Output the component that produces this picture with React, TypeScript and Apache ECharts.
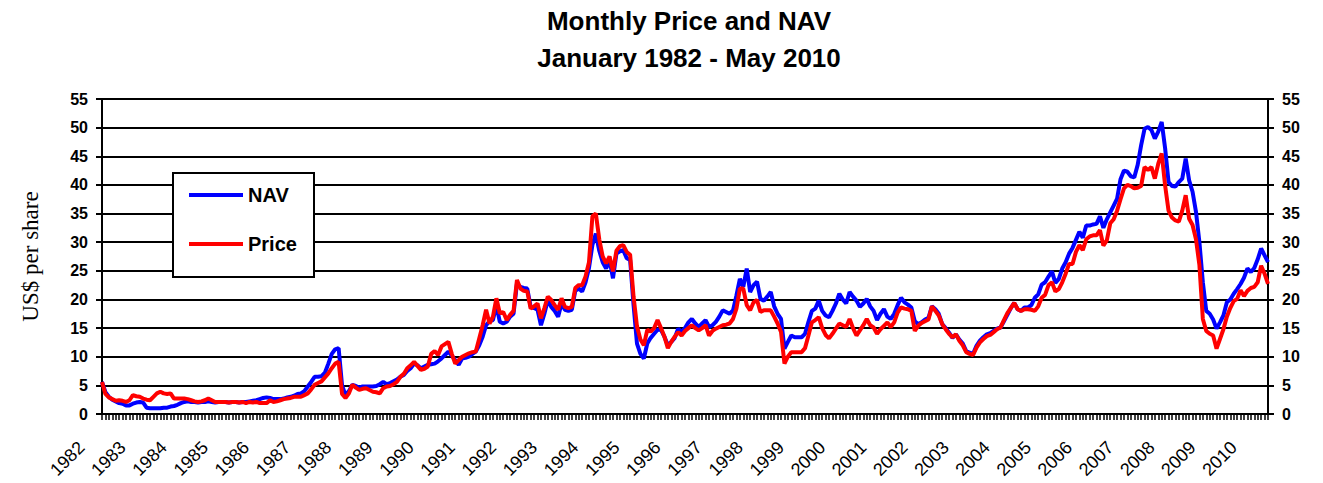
import React, { useEffect, useRef } from "react";
import * as echarts from "echarts";

const FIRST_YEAR = 1982;
const LAST_YEAR = 2010;
const LAST_MONTH = 5;

const TITLE_LINE_1 = "Monthly Price and NAV";
const TITLE_LINE_2 = "January 1982 - May 2010";
const Y_NAME = "US$ per share";
const SERIES_NAMES = ["NAV", "Price"];

// Monthly NAV, Jan 1982 .. May 2010 (one row per year)
const NAV: number[] = [
  5.6, 3.8, 3.0, 2.5, 2.2, 1.9, 1.8, 1.5, 1.5, 1.8, 2.0, 2.1, // 1982
  2.0, 1.1, 1.0, 1.0, 1.0, 1.0, 1.1, 1.1, 1.3, 1.4, 1.6, 1.9, // 1983
  2.1, 2.2, 2.1, 2.1, 2.0, 2.1, 2.1, 2.2, 2.1, 2.0, 2.1, 2.1, // 1984
  2.1, 2.0, 2.1, 2.1, 2.0, 2.1, 2.1, 2.2, 2.3, 2.4, 2.6, 2.8, // 1985
  2.9, 2.8, 2.6, 2.6, 2.6, 2.7, 2.9, 3.0, 3.2, 3.5, 3.6, 4.0, // 1986
  4.8, 5.6, 6.5, 6.5, 6.6, 7.2, 8.8, 10.5, 11.3, 11.5, 5.0, 3.3, // 1987
  4.0, 5.1, 4.9, 4.6, 4.8, 4.8, 4.8, 4.8, 4.9, 5.2, 5.6, 5.2, // 1988
  5.4, 5.7, 6.0, 6.5, 6.8, 7.5, 8.0, 8.8, 8.5, 8.0, 8.3, 8.6, // 1989
  8.7, 8.8, 9.2, 9.7, 10.3, 10.9, 10.2, 9.4, 8.6, 9.7, 9.8, 10.0, // 1990
  10.5, 10.9, 12.0, 13.5, 15.5, 16.2, 16.4, 19.0, 16.1, 15.8, 16.1, 17.0, // 1991
  17.5, 22.8, 22.2, 22.0, 21.9, 18.7, 18.5, 18.2, 15.5, 17.5, 19.9, 18.7, // 1992
  18.0, 17.0, 19.3, 18.2, 18.0, 18.2, 21.5, 21.9, 21.4, 23.0, 25.5, 29.5, // 1993
  31.5, 28.5, 26.5, 25.4, 26.9, 23.7, 28.0, 28.4, 28.6, 27.2, 26.9, 19.0, // 1994
  12.3, 10.5, 9.7, 12.3, 13.3, 14.0, 14.7, 14.7, 13.5, 12.0, 12.6, 13.3, // 1995
  14.9, 14.3, 15.0, 16.0, 16.6, 15.8, 15.2, 15.8, 16.4, 15.2, 15.5, 16.1, // 1996
  17.0, 18.1, 17.8, 17.5, 18.1, 20.7, 23.6, 22.2, 25.4, 21.3, 22.5, 23.1, // 1997
  20.1, 19.8, 20.5, 21.3, 18.8, 17.5, 16.6, 11.4, 12.6, 13.7, 13.4, 13.4, // 1998
  13.4, 14.0, 16.1, 18.0, 18.4, 19.8, 18.0, 17.2, 16.9, 18.0, 19.3, 21.0, // 1999
  20.0, 19.3, 21.3, 20.5, 19.8, 18.7, 19.3, 20.1, 18.8, 18.0, 16.4, 17.5, // 2000
  18.3, 17.0, 16.6, 17.5, 19.0, 20.3, 19.5, 19.1, 18.6, 16.2, 15.7, 16.0, // 2001
  16.5, 16.8, 18.8, 18.3, 17.5, 15.7, 15.0, 14.2, 13.3, 13.9, 13.0, 12.3, // 2002
  11.0, 10.7, 10.5, 11.9, 12.8, 13.4, 13.9, 14.1, 14.5, 14.9, 15.1, 16.2, // 2003
  17.3, 18.5, 19.4, 18.3, 18.0, 18.6, 18.6, 19.0, 20.3, 20.9, 22.6, 23.0, // 2004
  24.0, 24.9, 22.9, 23.6, 25.4, 26.5, 28.0, 29.0, 30.4, 31.8, 30.8, 32.9, // 2005
  32.9, 33.1, 33.2, 34.5, 32.5, 34.0, 35.2, 36.4, 37.6, 41.0, 42.5, 42.3, // 2006
  41.5, 41.3, 43.5, 46.9, 49.8, 50.1, 49.6, 48.1, 49.3, 51.0, 46.4, 40.5, // 2007
  39.8, 39.7, 40.5, 41.1, 44.6, 40.8, 38.8, 35.3, 30.0, 23.0, 18.0, 17.5, // 2008
  16.5, 14.9, 16.0, 17.2, 19.5, 20.0, 21.0, 21.8, 22.7, 23.8, 25.4, 24.8, // 2009
  25.5, 27.0, 28.9, 27.7, 26.5, // 2010
];

// Monthly share price, Jan 1982 .. May 2010 (one row per year)
const PRICE: number[] = [
  5.6, 3.5, 2.9, 2.6, 2.3, 2.4, 2.3, 2.1, 2.4, 3.3, 3.1, 3.0, // 1982
  2.7, 2.5, 2.4, 3.0, 3.6, 3.9, 3.6, 3.5, 3.6, 2.7, 2.7, 2.7, // 1983
  2.7, 2.6, 2.4, 2.2, 2.1, 2.2, 2.4, 2.7, 2.4, 2.1, 2.1, 2.1, // 1984
  2.1, 2.0, 2.1, 2.1, 2.0, 2.1, 1.9, 2.1, 2.0, 2.1, 1.9, 1.9, // 1985
  1.9, 2.4, 2.1, 2.2, 2.4, 2.6, 2.7, 2.8, 3.0, 3.0, 3.0, 3.3, // 1986
  3.6, 4.3, 5.1, 5.4, 5.7, 6.4, 7.1, 8.0, 8.8, 9.1, 3.5, 2.8, // 1987
  3.6, 5.1, 4.6, 4.2, 4.4, 4.5, 4.2, 3.9, 3.8, 3.6, 4.5, 4.8, // 1988
  4.9, 5.2, 5.6, 6.5, 7.0, 8.0, 8.5, 9.1, 8.4, 7.7, 7.9, 8.3, // 1989
  10.5, 11.0, 10.3, 11.8, 12.2, 12.6, 10.5, 8.8, 9.4, 10.0, 10.3, 10.6, // 1990
  10.8, 10.9, 13.2, 15.5, 18.2, 15.8, 17.0, 20.2, 17.6, 17.8, 16.4, 17.3, // 1991
  18.0, 23.4, 21.9, 21.5, 21.4, 18.4, 18.8, 19.3, 16.7, 18.5, 20.5, 19.9, // 1992
  19.0, 18.2, 20.2, 18.7, 18.5, 18.7, 22.0, 22.5, 22.5, 24.0, 26.5, 34.5, // 1993
  35.0, 30.5, 27.5, 26.3, 27.5, 24.9, 28.5, 29.3, 29.5, 28.3, 27.8, 20.5, // 1994
  15.3, 13.0, 12.0, 14.7, 14.4, 15.0, 16.4, 15.0, 13.5, 11.5, 12.6, 13.5, // 1995
  14.3, 13.7, 14.5, 15.0, 15.5, 15.0, 14.6, 15.0, 15.5, 13.7, 14.5, 14.9, // 1996
  15.2, 15.5, 15.6, 15.8, 16.6, 18.4, 21.9, 21.9, 19.0, 18.1, 19.5, 19.9, // 1997
  17.8, 18.1, 18.1, 18.1, 17.0, 15.8, 14.3, 8.8, 10.0, 10.8, 10.8, 10.8, // 1998
  10.8, 11.5, 13.7, 16.0, 16.4, 16.9, 15.0, 13.8, 13.2, 14.0, 14.9, 15.8, // 1999
  15.5, 15.2, 16.6, 15.0, 13.7, 14.6, 15.5, 16.6, 15.5, 15.1, 14.0, 14.8, // 2000
  15.4, 16.0, 15.2, 16.0, 17.7, 18.6, 18.4, 18.3, 18.0, 14.5, 15.4, 15.9, // 2001
  16.2, 16.5, 18.8, 18.0, 17.2, 15.7, 14.8, 14.0, 13.4, 13.9, 12.8, 12.0, // 2002
  10.8, 10.5, 10.3, 11.6, 12.5, 13.1, 13.6, 13.8, 14.3, 14.8, 15.1, 16.4, // 2003
  17.6, 18.5, 19.4, 18.3, 18.0, 18.3, 18.3, 18.2, 18.0, 18.8, 20.3, 20.8, // 2004
  22.5, 23.0, 21.4, 21.8, 23.0, 24.5, 26.2, 26.2, 28.3, 29.5, 28.6, 30.5, // 2005
  31.0, 31.2, 31.2, 32.1, 29.4, 30.3, 33.3, 34.0, 35.5, 37.5, 39.4, 40.0, // 2006
  39.8, 39.4, 39.5, 39.8, 43.1, 42.6, 43.1, 41.1, 43.7, 45.5, 39.9, 35.5, // 2007
  34.3, 33.8, 33.6, 35.5, 38.2, 34.1, 33.0, 30.5, 26.0, 16.6, 14.5, 14.0, // 2008
  13.7, 11.4, 13.1, 14.8, 17.0, 18.5, 19.7, 20.1, 21.6, 20.6, 21.5, 22.0, // 2009
  22.2, 23.0, 25.9, 24.5, 22.7, // 2010
];

const Y_MIN = 0;
const Y_MAX = 55;
const Y_STEP = 5;

const MONTHS: string[] = [];
for (let y = FIRST_YEAR; y <= LAST_YEAR; y++) {
  const last = y === LAST_YEAR ? LAST_MONTH : 12;
  for (let m = 1; m <= last; m++) MONTHS.push(`${y}-${String(m).padStart(2, "0")}`);
}

const SANS = "'Liberation Sans', Arial, Helvetica, sans-serif";
const SERIF = "'Liberation Serif', 'Times New Roman', serif";

export default function App() {
  const ref = useRef<HTMLDivElement>(null);

  useEffect(() => {
    if (!ref.current) return;
    const chart = echarts.init(ref.current, null, { renderer: "svg" });

    const yAxisBase = {
      type: "value",
      min: Y_MIN,
      max: Y_MAX,
      interval: Y_STEP,
      axisLine: { show: true, lineStyle: { color: "#000", width: 2 } },
      axisTick: { show: true, length: 6, lineStyle: { color: "#000", width: 2 } },
      axisLabel: {
        color: "#000",
        fontFamily: SANS,
        fontWeight: "bold",
        fontSize: 16,
        margin: 14,
      },
    };

    chart.setOption({
      animation: false,
      backgroundColor: "#fff",
      title: {
        text: `${TITLE_LINE_1}\n${TITLE_LINE_2}`,
        left: 684,
        top: -3,
        textAlign: "center",
        textStyle: {
          color: "#000",
          fontFamily: SANS,
          fontWeight: "bold",
          fontSize: 26,
          lineHeight: 37,
        },
      },
      grid: { left: 102, right: 55, top: 99, bottom: 69, containLabel: false },
      legend: {
        data: SERIES_NAMES,
        orient: "vertical",
        left: 189,
        top: 183,
        padding: 0,
        itemWidth: 54,
        itemHeight: 4,
        itemGap: 25,
        icon: "rect",
        z: 20,
        textStyle: {
          color: "#000",
          fontFamily: SANS,
          fontWeight: "bold",
          fontSize: 20,
          lineHeight: 24,
        },
      },
      graphic: [
        {
          type: "rect",
          z: 10,
          shape: { x: 173, y: 173, width: 141, height: 104 },
          style: { fill: "#fff", stroke: "#000", lineWidth: 2 },
        },
      ],
      xAxis: {
        type: "category",
        data: MONTHS,
        boundaryGap: false,
        axisLine: { show: true, lineStyle: { color: "#000", width: 2 } },
        axisTick: { show: true, interval: 0, length: 6, lineStyle: { color: "#000", width: 1.5 } },
        splitLine: { show: false },
        axisLabel: {
          interval: (index: number) => index % 12 === 0,
          formatter: (v: string) => v.slice(0, 4),
          rotate: 45,
          margin: 10,
          padding: [0, 29, 0, 0],
          color: "#000",
          fontFamily: SANS,
          fontSize: 18,
          hideOverlap: false,
        },
      },
      yAxis: [
        {
          ...yAxisBase,
          position: "left",
          name: Y_NAME,
          nameLocation: "middle",
          nameGap: 60,
          nameRotate: 90,
          nameTextStyle: { color: "#000", fontFamily: SERIF, fontSize: 23 },
          splitLine: { show: true, lineStyle: { color: "#000", width: 2 } },
        },
        {
          ...yAxisBase,
          position: "right",
          splitLine: { show: false },
        },
      ],
      series: [
        {
          name: SERIES_NAMES[0],
          type: "line",
          data: NAV,
          showSymbol: false,
          symbol: "none",
          color: "#0000FF",
          lineStyle: { color: "#0000FF", width: 4 },
          z: 3,
        },
        {
          name: SERIES_NAMES[1],
          type: "line",
          data: PRICE,
          showSymbol: false,
          symbol: "none",
          color: "#FF0000",
          lineStyle: { color: "#FF0000", width: 4 },
          z: 4,
        },
      ],
    });

    return () => chart.dispose();
  }, []);

  return (
    <div
      ref={ref}
      style={{ position: "absolute", left: 0, top: 0, width: 1323, height: 483, background: "#fff" }}
    />
  );
}
